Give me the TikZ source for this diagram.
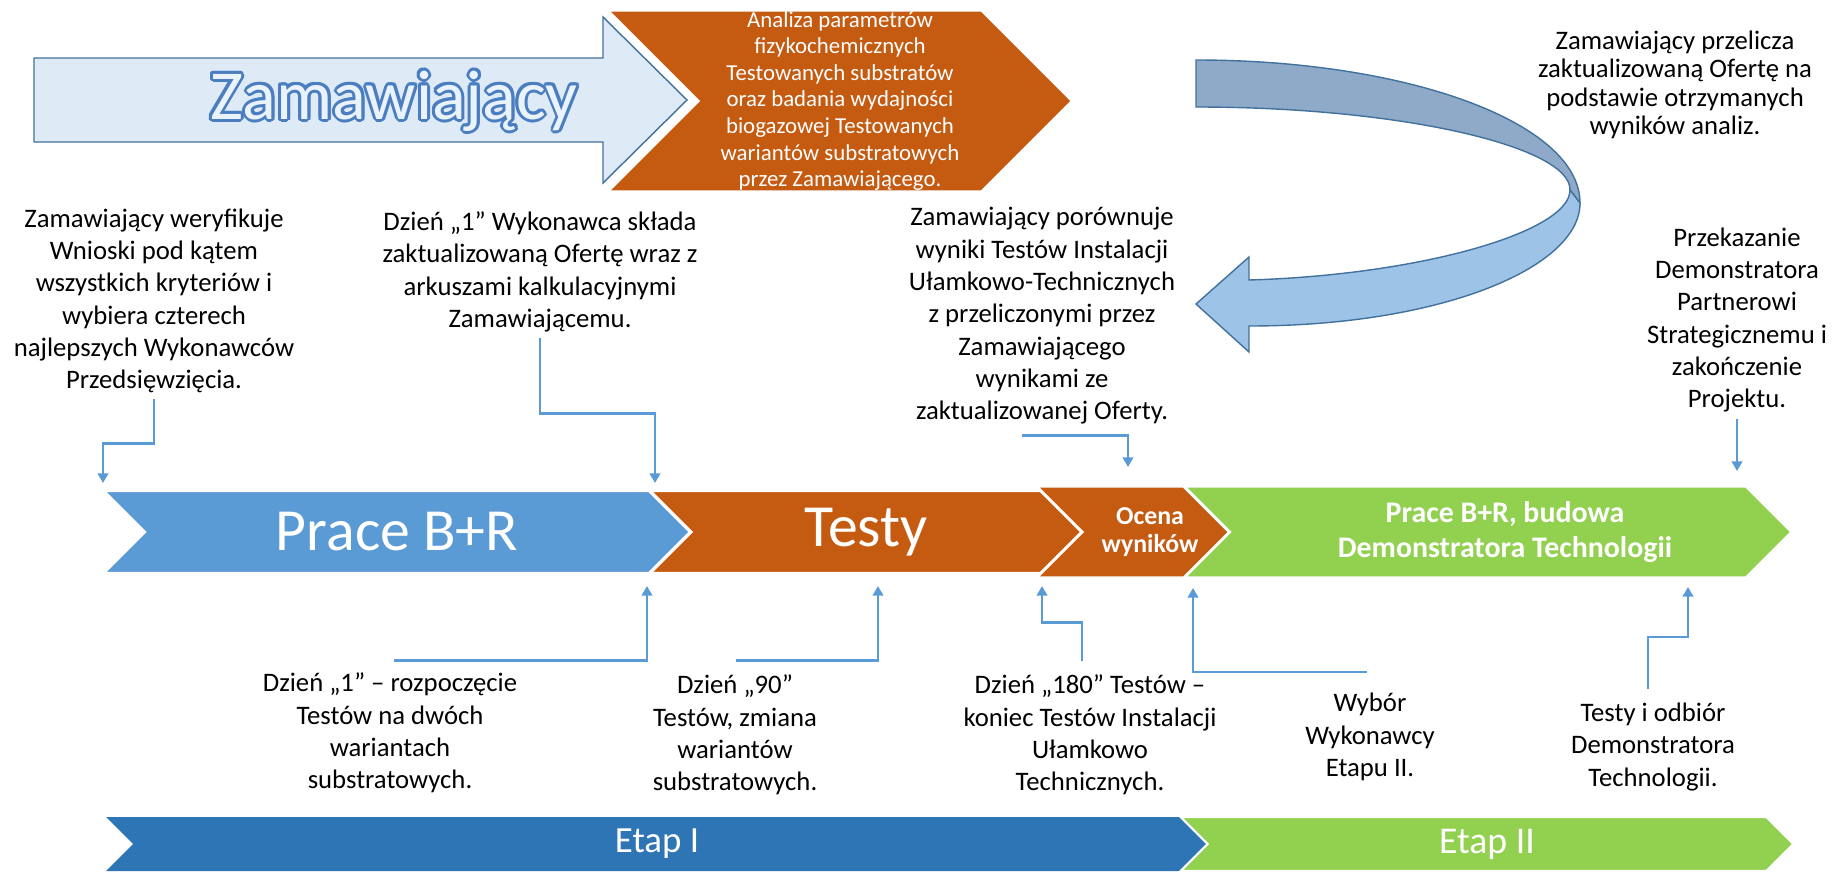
\documentclass[tikz,border=0pt]{standalone}
\usepackage{fontspec}
\setmainfont{Carlito}
\usepackage{tikz}
\usetikzlibrary{arrows.meta, shapes.symbols}
\definecolor{zamfill}{HTML}{DEEBF7}
\definecolor{zamedge}{HTML}{41719C}
\definecolor{zamletter}{HTML}{EAF2FB}
\definecolor{zamrim}{HTML}{4A7EC0}
\definecolor{orangebox}{HTML}{C55A11}
\definecolor{prblue}{HTML}{5B9BD5}
\definecolor{greenbox}{HTML}{92D050}
\definecolor{etapblue}{HTML}{2E75B6}
\definecolor{linkblue}{HTML}{5B9BD5}
\definecolor{backband}{HTML}{8EAAC8}
\definecolor{frontband}{HTML}{9DC3E6}

\begin{document}
\begin{tikzpicture}[
    x=0.02cm, y=-0.02cm,
    note/.style={align=center, font=\fontsize{15.2}{18.4}\selectfont},
    chevron/.style={signal, signal from=west, signal to=east, signal pointer angle=90, draw=white, line width=1.2pt, text=white, inner sep=0pt, align=center},
    chevtext/.style={text=white, align=center, inner sep=0pt},
    link/.style={-{Triangle[width=6pt, length=5.5pt]}, line width=1.5pt, linkblue},
    band/.style={draw=zamedge, line width=0.8pt}
]
    \useasboundingbox (0,0) rectangle (1832,872);

    % Top arrow
    \draw[fill=zamfill, draw=zamedge, line width=0.8pt] (34,58) -- (603,58) -- (603,17) -- (687,100) -- (603,183) -- (603,142) -- (34,142) -- cycle;
    \foreach \a in {0,30,...,330}
        \node[font=\fontsize{40}{48}\selectfont, text=zamrim, shift={(\a:1.7pt)}] at (394,101) {Zamawiający};
    \node[font=\fontsize{40}{48}\selectfont, text=zamletter] (zam) at (394,101) {Zamawiający};
    \node[chevron, fill=orangebox, minimum width=9.28cm, minimum height=3.62cm, font=\fontsize{13}{15.1}\selectfont] (analiza) at (840,101) {Analiza parametrów\\fizykochemicznych\\Testowanych substratów\\oraz badania wydajności\\biogazowej Testowanych\\wariantów substratowych\\przez Zamawiającego.};

    % Curved arrow
    \draw[band, fill=backband] (1196,60) .. controls (1408,60) and (1580,123) .. (1580,203) -- (1570,190) .. controls (1571,147) and (1403,107) .. (1196,107) -- cycle;
    \draw[band, fill=frontband] (1580,203) .. controls (1580,268) and (1440,326) .. (1249,326) -- (1249,352) -- (1196,304) -- (1249,257) -- (1249,280) .. controls (1420,275) and (1570,232) .. (1570,190) -- cycle;

    % Main timeline
    \node[chevron, fill=prblue, minimum width=11.72cm, minimum height=1.64cm, font=\fontsize{34}{40}\selectfont] (prace) at (397,532) {Prace B+R};
    \node[chevron, fill=orangebox, minimum width=8.62cm, minimum height=1.64cm, font=\fontsize{34}{40}\selectfont] (testy) at (866,532) {Testy};
    \node[chevron, fill=orangebox, minimum width=3.84cm, minimum height=1.82cm,
        label={[chevtext, xshift=0.34cm, font=\bfseries\fontsize{14.7}{16.4}\selectfont]center:Ocena\\wyników}] (ocena) at (1133,532) {};
    \node[chevron, fill=greenbox, minimum width=12.14cm, minimum height=1.82cm,
        label={[chevtext, xshift=0.34cm, font=\bfseries\fontsize{17}{19.8}\selectfont]center:Prace B+R, budowa\\Demonstratora Technologii}] (budowa) at (1488,532) {};

    % Stages
    \node[chevron, fill=etapblue, draw=none, minimum width=22.04cm, minimum height=1.08cm, font=\fontsize{21}{25}\selectfont] (etap1) at (657,844) {Etap I};
    \node[chevron, fill=greenbox, minimum width=12.26cm, minimum height=1.08cm, font=\fontsize{21.5}{25}\selectfont] (etap2) at (1487,844) {Etap II};

    % Notes
    \node[note] (wer) at (154,301) {Zamawiający weryfikuje\\Wnioski pod kątem\\wszystkich kryteriów i\\wybiera czterech\\najlepszych Wykonawców\\Przedsięwzięcia.};
    \node[note] (oferta) at (540,272) {Dzień „1” Wykonawca składa\\zaktualizowaną Ofertę wraz z\\arkuszami kalkulacyjnymi\\Zamawiającemu.};
    \node[note] (porown) at (1042,316) {Zamawiający porównuje\\wyniki Testów Instalacji\\Ułamkowo-Technicznych\\z przeliczonymi przez\\Zamawiającego\\wynikami ze\\zaktualizowanej Oferty.};
    \node[note, font=\fontsize{15.2}{16.2}\selectfont] (przel) at (1675,85) {Zamawiający przelicza\\zaktualizowaną Ofertę na\\podstawie otrzymanych\\wyników analiz.};
    \node[note] (przek) at (1737,320) {Przekazanie\\Demonstratora\\Partnerowi\\Strategicznemu i\\zakończenie\\Projektu.};
    \node[note] (dz1) at (390,733) {Dzień „1” – rozpoczęcie\\Testów na dwóch\\wariantach\\substratowych.};
    \node[note] (dz90) at (735,735) {Dzień „90”\\Testów, zmiana\\wariantów\\substratowych.};
    \node[note] (dz180) at (1090,735) {Dzień „180” Testów –\\koniec Testów Instalacji\\Ułamkowo\\Technicznych.};
    \node[note] (wybor) at (1370,737) {Wybór\\Wykonawcy\\Etapu II.};
    \node[note] (odbior) at (1653,747) {Testy i odbiór\\Demonstratora\\Technologii.};

    % Arrow ends
    \coordinate (t1) at (103,483);
    \coordinate (t2) at (655,483);
    \coordinate (t3) at (1128,467);
    \coordinate (t4) at (1737,471);
    \coordinate (t5) at (647,586);
    \coordinate (t6) at (878,586);
    \coordinate (t7) at (1042,586);
    \coordinate (t8) at (1193,588);
    \coordinate (t9) at (1688,587);

    % Arrows
    \draw[link] (wer.south) -- ++(0,44) -| (t1);
    \draw[link] (oferta.south) -- ++(0,75) -| (t2);
    \draw[link] ([shift={(-20,5)}]porown.south) -| (t3);
    \draw[link] (przek.south) -- (t4);
    \draw[link] ([shift={(4,-6)}]dz1.north) -| (t5);
    \draw[link] ([shift={(1,-8)}]dz90.north) -| (t6);
    \draw[link] ([shift={(-8,-8)}]dz180.north) -- ++(0,-38) -| (t7);
    \draw[link] ([shift={(-3,-15)}]wybor.north) -| (t8);
    \draw[link] ([shift={(-5,-8)}]odbior.north) -- ++(0,-52) -| (t9);
\end{tikzpicture}
\end{document}
